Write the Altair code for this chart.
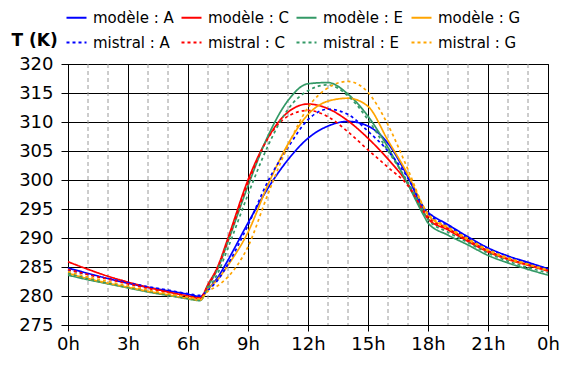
import altair as alt
import pandas as pd

hours = [0, 1, 2, 3, 4, 5, 6, 6.6, 7, 7.5, 8, 9, 10, 11, 12, 13, 14, 15, 16, 17, 17.8, 18, 19, 20, 21, 22, 23, 24]

modele_A = [284.8, 283.9, 283.0, 282.2, 281.5, 280.9, 280.3, 279.9, 281.2, 283.3, 286.2, 292.6, 298.6, 303.5, 307.2, 309.3, 310.1, 309.3, 306.3, 300.5, 295.0, 294.4, 292.3, 290.2, 288.3, 286.9, 285.8, 284.7]
mistral_A = [284.5, 283.7, 283.0, 282.3, 281.6, 281.0, 280.4, 280.1, 281.0, 282.8, 285.5, 292.2, 299.8, 305.6, 310.4, 312.2, 311.3, 308.4, 305.0, 300.3, 295.2, 294.3, 292.1, 290.0, 288.2, 286.8, 285.7, 284.6]
modele_C = [285.9, 284.6, 283.4, 282.4, 281.5, 280.7, 280.0, 279.6, 282.0, 285.2, 290.0, 300.0, 307.3, 311.7, 313.1, 312.3, 310.2, 307.2, 303.6, 299.3, 294.3, 293.3, 291.4, 289.4, 287.6, 286.3, 285.3, 284.3]
mistral_C = [284.6, 283.7, 282.9, 282.1, 281.3, 280.6, 279.9, 279.7, 281.8, 285.0, 289.6, 299.5, 307.2, 311.0, 312.0, 310.9, 308.3, 305.2, 302.2, 299.0, 294.6, 293.6, 291.6, 289.6, 287.8, 286.4, 285.4, 284.4]
modele_E = [283.6, 282.8, 282.1, 281.4, 280.7, 280.1, 279.5, 279.2, 281.7, 284.8, 289.4, 299.0, 307.6, 313.7, 316.6, 316.8, 314.8, 311.0, 305.6, 299.2, 293.8, 292.6, 290.5, 288.8, 287.0, 285.7, 284.6, 283.6]
mistral_E = [283.9, 283.0, 282.2, 281.5, 280.8, 280.2, 279.6, 279.3, 281.3, 284.0, 288.3, 297.5, 305.9, 312.2, 315.4, 316.4, 314.5, 310.4, 305.0, 299.6, 294.4, 293.2, 291.0, 289.2, 287.4, 286.0, 284.9, 284.0]
modele_G = [283.9, 283.0, 282.2, 281.5, 280.8, 280.2, 279.6, 279.3, 281.2, 282.9, 285.3, 291.0, 299.2, 306.2, 311.3, 313.6, 314.1, 312.7, 306.8, 300.9, 295.2, 294.0, 291.7, 289.7, 287.8, 286.4, 285.4, 284.4]
mistral_G = [284.2, 283.3, 282.5, 281.7, 281.0, 280.4, 279.8, 279.5, 280.8, 281.8, 283.3, 288.5, 297.6, 305.9, 312.5, 315.9, 317.0, 315.1, 309.5, 301.8, 295.3, 294.2, 291.9, 289.9, 288.0, 286.6, 285.5, 284.5]

series_names = ["modèle : A", "modèle : C", "modèle : E", "modèle : G",
                "mistral : A", "mistral : C", "mistral : E", "mistral : G"]
series_values = [modele_A, modele_C, modele_E, modele_G,
                 mistral_A, mistral_C, mistral_E, mistral_G]
series_colors = ["#0000ff", "#ff0000", "#339966", "#ffa500",
                 "#0000ff", "#ff0000", "#339966", "#ffa500"]
series_dash = [[1, 0], [1, 0], [1, 0], [1, 0], [3, 3], [3, 3], [3, 3], [3, 3]]

x_ticks = [0, 3, 6, 9, 12, 15, 18, 21, 24]
y_ticks = [275, 280, 285, 290, 295, 300, 305, 310, 315, 320]
minor_hours = [1, 2, 4, 5, 7, 8, 10, 11, 13, 14, 16, 17, 19, 20, 22, 23]

rows = []
for name, vals in zip(series_names, series_values):
    for h, v in zip(hours, vals):
        rows.append({"hour": h, "T": v, "series": name})
df = pd.DataFrame(rows)

FONT = "DejaVu Sans"

x_enc = alt.X("hour:Q", scale=alt.Scale(domain=[0, 24], nice=False),
              axis=alt.Axis(values=x_ticks, labelExpr="(datum.value % 24) + 'h'",
                            title=None, grid=True, gridColor="#000000",
                            tickSize=6, labelPadding=4, labelFontSize=18,
                            labelFlush=False,
                            labelFont=FONT, labelColor="#000000",
                            domainColor="#000000", tickColor="#000000"))

minor = alt.Chart(pd.DataFrame({"hour": minor_hours})).mark_rule(
    color="#9a9a9a", strokeDash=[4, 3], strokeWidth=1
).encode(x=alt.X("hour:Q", scale=alt.Scale(domain=[0, 24], nice=False)))

lines = alt.Chart(df).mark_line(interpolate="monotone", strokeWidth=1.7).encode(
    x=x_enc,
    y=alt.Y("T:Q", scale=alt.Scale(domain=[275, 320], nice=False, zero=False),
            axis=alt.Axis(values=y_ticks, title="T (K)", titleAngle=0,
                          titleX=-57, titleY=-24, titleAlign="left",
                          titleBaseline="middle", titleFont=FONT,
                          titleFontSize=17, titleFontWeight="bold",
                          titleColor="#000000",
                          grid=True, gridColor="#000000", tickSize=7,
                          labelPadding=8, labelFontSize=18, labelFont=FONT,
                          labelColor="#000000", domainColor="#000000",
                          tickColor="#000000")),
    color=alt.Color("series:N", scale=alt.Scale(domain=series_names, range=series_colors),
                    sort=series_names,
                    legend=alt.Legend(title=None, orient="none", legendX=-3, legendY=-58,
                                      columns=4, direction="horizontal",
                                      symbolType="stroke", symbolSize=400,
                                      symbolStrokeWidth=2.2, labelFontSize=15,
                                      labelFont=FONT, labelColor="#000000",
                                      labelOffset=5, columnPadding=3,
                                      rowPadding=5)),
    strokeDash=alt.StrokeDash("series:N",
                              scale=alt.Scale(domain=series_names, range=series_dash),
                              sort=series_names, legend=alt.Legend(title=None)),
    detail="series:N",
)

chart = alt.layer(minor, lines).properties(
    width=480, height=261,
    autosize=alt.AutoSizeParams(type="none"),
    padding={"left": 60, "top": 56, "right": 14, "bottom": 36},
).configure_view(stroke="#000000").configure_axis(gridOpacity=1)

chart.save("out.html", embed_options={"renderer": "svg", "actions": False})
